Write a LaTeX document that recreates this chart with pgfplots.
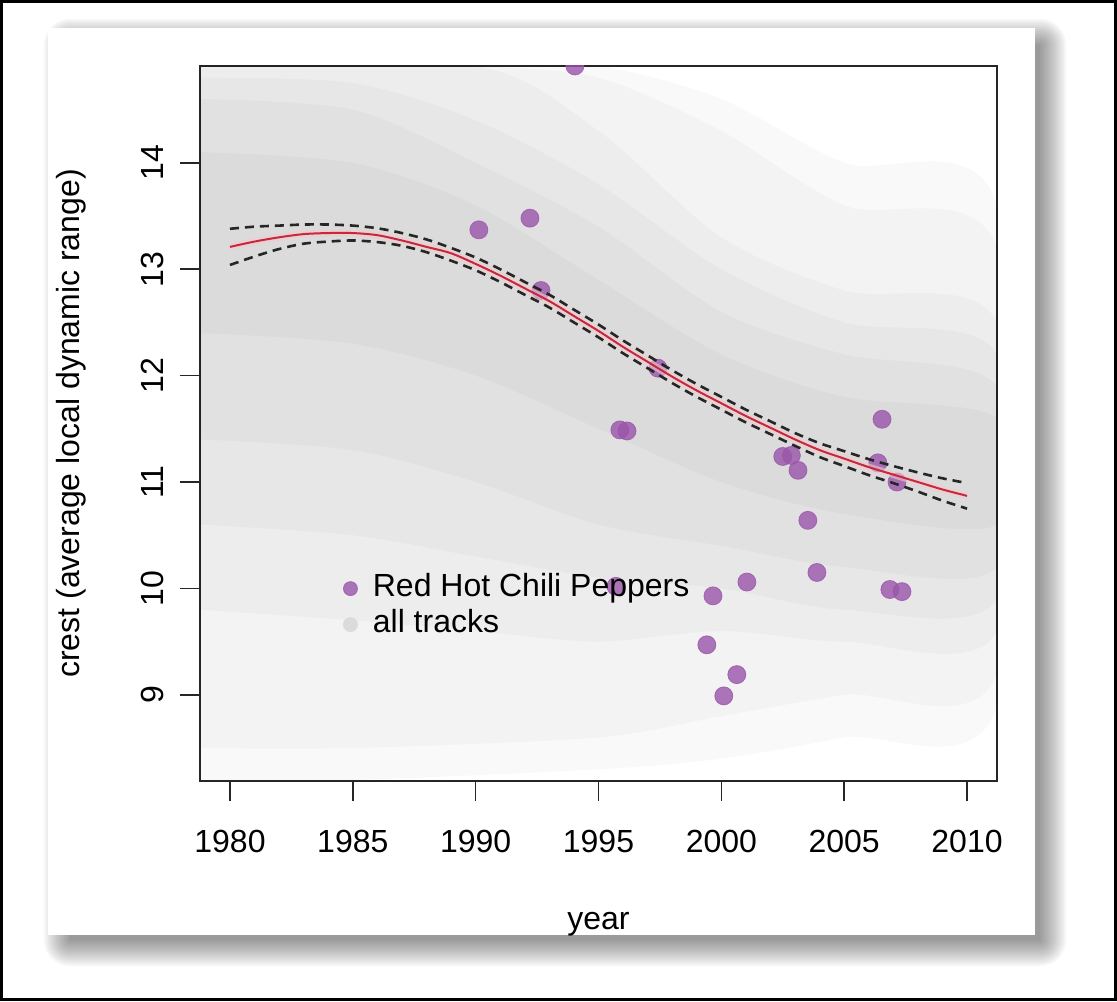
\documentclass[border=0pt]{standalone}
\usepackage{fontspec}
\setmainfont{Liberation Sans}
\usepackage{pgfplots}
\pgfplotsset{compat=1.18}
\definecolor{rhcp}{RGB}{155,85,170}
\definecolor{fitred}{RGB}{200,40,60}
\newcommand{\myfont}{\fontsize{16}{19}\selectfont}
\begin{document}
\begin{tikzpicture}
\useasboundingbox (0pt,0pt) rectangle (558.5pt,-500.5pt);
% drop shadow
\foreach \e in {0,1,...,13} {
  \fill[black, opacity=0.034, rounded corners=\e pt] (35pt-\e pt,-22.5pt+\e pt) rectangle (520pt+\e pt,-470pt-\e pt);
}
% white panel
\fill[white] (24pt,-14pt) rectangle (517.5pt,-467.5pt);
% outer border
\draw[black, line width=1.5pt] (0.75pt,-0.75pt) rectangle (557.75pt,-499.75pt);
\begin{axis}[
  at={(100pt,-390.5pt)}, anchor=south west,
  scale only axis, width=398.5pt, height=357.5pt,
  xmin=1978.78, xmax=2011.22, ymin=8.19, ymax=14.91,
  axis line style={line width=0.8pt, black!85},
  xtick={1980,1985,...,2010}, ytick={9,10,...,14},
  xtick pos=left, ytick pos=left,
  tick align=outside, major tick length=10pt,
  tick style={line width=0.8pt, black!85},
  /pgf/number format/assume math mode=true,
  /pgf/number format/1000 sep={},
  tick label style={font=\myfont},
  yticklabel style={rotate=90, anchor=south},
  xticklabel style={anchor=north},
  xticklabel shift=11pt, yticklabel shift=4.5pt,
  xlabel={year}, ylabel={crest (average local dynamic range)},
  label style={font=\myfont},
  xlabel style={at={(axis description cs:0.5,-0.207)}, anchor=base},
  ylabel style={at={(axis description cs:-0.1506,0.5)}, anchor=base},
  clip marker paths=true,
  legend style={draw=none, fill=none, at={(axis description cs:0.179,0.292)}, anchor=north west,
    inner sep=0pt, row sep=2pt, font=\myfont,
    nodes={inner sep=0.5pt, text height=11.5pt, text depth=3.5pt},
    /tikz/every odd column/.append style={column sep=7pt}},
  legend cell align=left,
]
% all tracks density cloud (approximated by nested translucent bands)
\addplot[forget plot, draw=none, fill=black, fill opacity=0.025, smooth] coordinates {
(1978.78,14.91) (1985,14.91) (1990,14.91) (1995,14.91) (2000,14.6) (2005,14.0) (2011.22,13.6)
(2011.22,8.9) (2005,8.6) (2000,8.4) (1995,8.3) (1985,8.2) (1978.78,8.2)} -- cycle;
\addplot[forget plot, draw=none, fill=black, fill opacity=0.025, smooth] coordinates {
(1978.78,14.91) (1985,14.91) (1990,14.91) (1995,14.8) (2000,14.3) (2005,13.6) (2011.22,13.2)
(2011.22,9.2) (2005,9.0) (2000,8.8) (1995,8.6) (1985,8.5) (1978.78,8.5)} -- cycle;
\addplot[forget plot, draw=none, fill=black, fill opacity=0.025, smooth] coordinates {
(1978.78,14.91) (1990,14.91) (1995,14.3) (2000,13.3) (2005,12.8) (2011.22,12.5)
(2011.22,9.6) (2005,9.5) (2000,9.6) (1995,9.5) (1990,9.6) (1985,9.7) (1978.78,9.8)} -- cycle;
\addplot[forget plot, draw=none, fill=black, fill opacity=0.025, smooth] coordinates {
(1978.78,14.8) (1985,14.75) (1990,14.4) (1995,13.8) (2000,13.0) (2005,12.5) (2011.22,12.2)
(2011.22,9.9) (2005,9.8) (2000,10.0) (1995,10.1) (1990,10.3) (1985,10.5) (1978.78,10.6)} -- cycle;
\addplot[forget plot, draw=none, fill=black, fill opacity=0.025, smooth] coordinates {
(1978.78,14.6) (1985,14.5) (1990,14.0) (1995,13.4) (2000,12.6) (2005,12.2) (2011.22,11.9)
(2011.22,10.2) (2005,10.2) (2000,10.4) (1995,10.6) (1990,11.0) (1985,11.3) (1978.78,11.4)} -- cycle;
\addplot[forget plot, draw=none, fill=black, fill opacity=0.025, smooth] coordinates {
(1978.78,14.1) (1985,14.0) (1990,13.6) (1995,12.9) (2000,12.2) (2005,11.8) (2011.22,11.6)
(2011.22,10.6) (2005,10.7) (2000,11.0) (1995,11.5) (1990,12.0) (1985,12.3) (1978.78,12.4)} -- cycle;
% Red Hot Chili Peppers tracks
\addplot[rhcp, only marks, mark=*, mark size=4.5pt,
  mark options={draw=rhcp, fill=rhcp, opacity=0.8},
  legend image code/.code={\fill[rhcp, opacity=0.8] (0pt,0pt) circle (3.5pt);}]
coordinates {
(1990.13,13.37) (1992.21,13.48) (1992.66,12.80) (1994.04,14.91) (1995.71,10.02)
(1995.87,11.49) (1996.16,11.48) (1997.42,12.07) (1999.41,9.47) (1999.66,9.93)
(2000.10,8.99) (2000.63,9.19) (2001.04,10.06) (2002.50,11.24) (2002.85,11.25)
(2003.12,11.11) (2003.52,10.64) (2003.89,10.15) (2006.37,11.18) (2006.54,11.59)
(2006.86,9.99) (2007.15,11.00) (2007.35,9.97)};
\addlegendentry{Red Hot Chili Peppers}
\addlegendimage{legend image code/.code={\fill[black!14] (0pt,0pt) circle (3.5pt);}}
\addlegendentry{all tracks}
% fitted trend
\addplot[forget plot, smooth, line width=3.5pt, fitred!25, opacity=0.6] coordinates {
(1980,13.21) (1981,13.26) (1982,13.30) (1983,13.33) (1984,13.34) (1985,13.34) (1986,13.32)
(1987,13.27) (1988,13.21) (1989,13.15) (1990,13.05) (1991,12.94) (1992,12.82) (1993,12.70)
(1994,12.56) (1995,12.42) (1996,12.27) (1997,12.13) (1998,11.99) (1999,11.86) (2000,11.74)
(2001,11.62) (2002,11.51) (2003,11.40) (2004,11.30) (2005,11.22) (2006,11.14) (2007,11.07)
(2008,11.00) (2009,10.93) (2010,10.87)};
\addplot[forget plot, smooth, line width=1pt, fitred] coordinates {
(1980,13.21) (1981,13.26) (1982,13.30) (1983,13.33) (1984,13.34) (1985,13.34) (1986,13.32)
(1987,13.27) (1988,13.21) (1989,13.15) (1990,13.05) (1991,12.94) (1992,12.82) (1993,12.70)
(1994,12.56) (1995,12.42) (1996,12.27) (1997,12.13) (1998,11.99) (1999,11.86) (2000,11.74)
(2001,11.62) (2002,11.51) (2003,11.40) (2004,11.30) (2005,11.22) (2006,11.14) (2007,11.07)
(2008,11.00) (2009,10.93) (2010,10.87)};
% confidence band
\addplot[forget plot, smooth, line width=1.3pt, black!85, dash pattern=on 4.5pt off 3pt] coordinates {
(1980,13.38) (1981,13.40) (1982,13.41) (1983,13.42) (1984,13.42) (1985,13.41) (1986,13.385)
(1987,13.34) (1988,13.28) (1989,13.20) (1990,13.11) (1991,13.00) (1992,12.88) (1993,12.76)
(1994,12.62) (1995,12.48) (1996,12.33) (1997,12.19) (1998,12.05) (1999,11.92) (2000,11.80)
(2001,11.68) (2002,11.57) (2003,11.46) (2004,11.365) (2005,11.29) (2006,11.215) (2007,11.15)
(2008,11.09) (2009,11.035) (2010,10.99)};
\addplot[forget plot, smooth, line width=1.3pt, black!85, dash pattern=on 4.5pt off 3pt] coordinates {
(1980,13.04) (1981,13.12) (1982,13.19) (1983,13.24) (1984,13.26) (1985,13.27) (1986,13.255)
(1987,13.22) (1988,13.16) (1989,13.08) (1990,12.99) (1991,12.88) (1992,12.76) (1993,12.64)
(1994,12.50) (1995,12.36) (1996,12.21) (1997,12.07) (1998,11.93) (1999,11.80) (2000,11.68)
(2001,11.56) (2002,11.45) (2003,11.34) (2004,11.235) (2005,11.15) (2006,11.065) (2007,10.99)
(2008,10.91) (2009,10.825) (2010,10.75)};
\end{axis}
\end{tikzpicture}
\end{document}
